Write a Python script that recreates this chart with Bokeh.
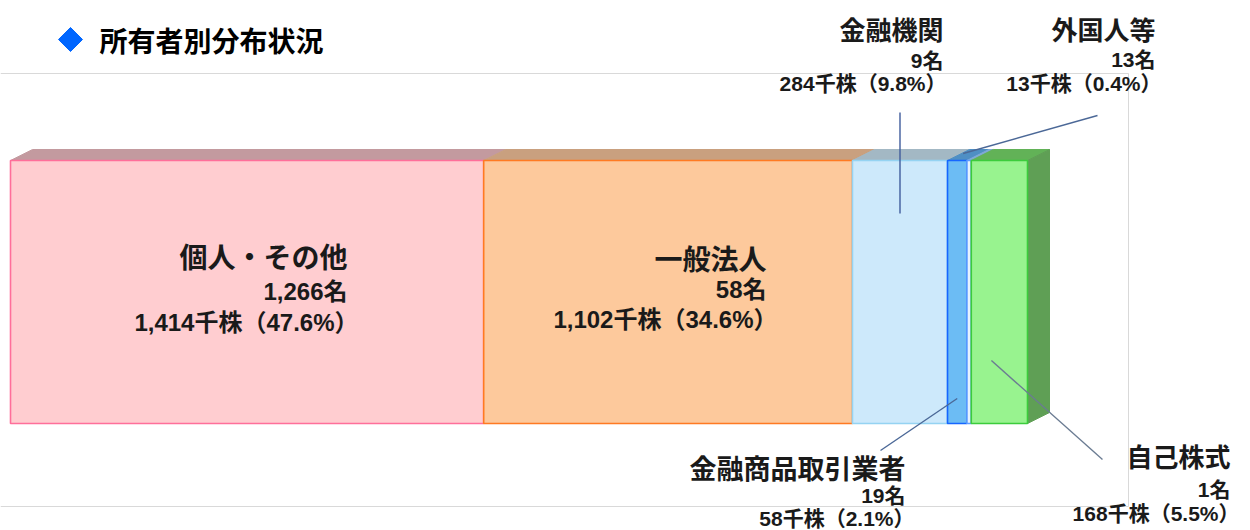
import math
from bokeh.plotting import figure
from bokeh.models import Range1d, Label
from bokeh.embed import file_html
from bokeh.resources import INLINE

# ---------------- data ----------------
categories = ["個人・その他", "一般法人", "金融機関", "金融商品取引業者", "外国人等", "自己株式"]
holders = [1266, 58, 9, 19, 13, 1]          # 名
shares = [1414, 1102, 284, 58, 13, 168]     # 千株
pcts = [47.6, 34.6, 9.8, 2.1, 0.4, 5.5]     # %
title = "所有者別分布状況"

# ---------------- styles ----------------
front_colors = ["#ffcdd0", "#fdc99c", "#cde9fb", "#6cbcf4", "#e6f2ff", "#98f38f"]
border_colors = ["#ff6f9a", "#ff7a22", "#95d3f2", "#1666ff", "#5c9cff", "#3ccc3c"]
top_colors = ["#c39a9f", "#c9a07f", "#a3b8c4", "#4f8fc4", "#7fa9d6", "#62b257"]
side_color = "#5f9f55"
FONT = "Liberation Sans, Noto Sans CJK JP"
CJK = "Noto Sans CJK JP"

W, H = 1250, 530
X0 = 10            # left of bar (px)
BAR_PX = 1017      # bar length (px)
total = sum(shares)
S = BAR_PX / total  # px per 千株
BAR_TOP, BAR_BOT = 160, 423
DX_PX, DY = 22, 11
DX = DX_PX / S


def px(x):
    return (x - X0) / S


p = figure(width=W, height=H, output_backend="svg", toolbar_location=None,
           x_range=Range1d(-X0 / S, (W - X0) / S), y_range=Range1d(H, 0),
           min_border=0, outline_line_color=None)
p.axis.visible = False
p.grid.visible = False
p.background_fill_color = "white"

# frame of plot area
p.segment(x0=[px(0), px(1128), px(0)], y0=[73, 73, 506],
          x1=[px(1128), px(1128), px(1128)], y1=[73, 506, 506],
          line_color="#d9d9d9", line_width=1)

# segments
lefts, rights = [], []
acc = 0
for v in shares:
    lefts.append(acc)
    acc += v
    rights.append(acc)

# top faces
top_xs = [[l, r, r + DX, l + DX] for l, r in zip(lefts, rights)]
top_ys = [[BAR_TOP, BAR_TOP, BAR_TOP - DY, BAR_TOP - DY] for _ in shares]
p.patches(top_xs, top_ys, fill_color=top_colors, line_color=top_colors, line_width=1)

# right side face of last segment
r = rights[-1]
p.patch([r, r + DX, r + DX, r], [BAR_TOP, BAR_TOP - DY, BAR_BOT - DY, BAR_BOT],
        fill_color=side_color, line_color=side_color)

# front faces
p.quad(left=lefts, right=rights, top=[BAR_TOP] * len(shares), bottom=[BAR_BOT] * len(shares),
       fill_color=front_colors, line_color=border_colors, line_width=1.6)

# leader lines
mids = [(l + r) / 2 for l, r in zip(lefts, rights)]
lead_x0 = [mids[2], mids[4] - 6 / S, mids[3], mids[5] - 8 / S]
lead_y0 = [213, 153, 398, 360]
lead_x1 = [mids[2], px(1097), px(880), px(1102)]
lead_y1 = [112, 115, 450, 459]
p.segment(x0=lead_x0, y0=lead_y0, x1=lead_x1, y1=lead_y1,
          line_color=["#3f5c9c", "#4b6897", "#4b6897", "#6b7c92"], line_width=1.4)

# title
p.scatter(x=[px(70)], y=[39], marker="square", angle=math.pi / 4, size=17,
          fill_color="#0066ff", line_color="#0066ff")
p.add_layout(Label(x=px(99), y=39, text=title, text_font=CJK, text_font_style="bold",
                   text_font_size="28px", text_color="#000000", text_baseline="middle"))

# labels layout: right x (lines 1-2), right x (line 3), name y, line2 y, line3 y, name size, sub size
label_layout = [
    (347, 358, 255, 291, 322, 28, 24),
    (766, 777, 257, 289, 319, 28, 24),
    (943, 946, 28, 60, 83, 26, 21),
    (905, 914, 467, 495, 518, 27, 21),
    (1155, 1161, 28, 59, 83, 26, 21),
    (1230, 1239, 455, 489, 513, 26, 21),
]
for i, (rx, rx3, y1, y2, y3, fs1, fs2) in enumerate(label_layout):
    lines = [
        (categories[i], rx, y1, fs1, CJK),
        (f"{holders[i]:,}名", rx, y2, fs2, FONT),
        (f"{shares[i]:,}千株（{pcts[i]}%）", rx3, y3, fs2, FONT),
    ]
    for txt, xx, yy, fs, fnt in lines:
        p.add_layout(Label(x=px(xx), y=yy, text=txt, text_font=fnt, text_font_style="bold",
                           text_font_size=f"{fs}px", text_color="#1a1a1a",
                           text_align="right", text_baseline="middle"))

open("out.html", "w").write(file_html(p, INLINE))
